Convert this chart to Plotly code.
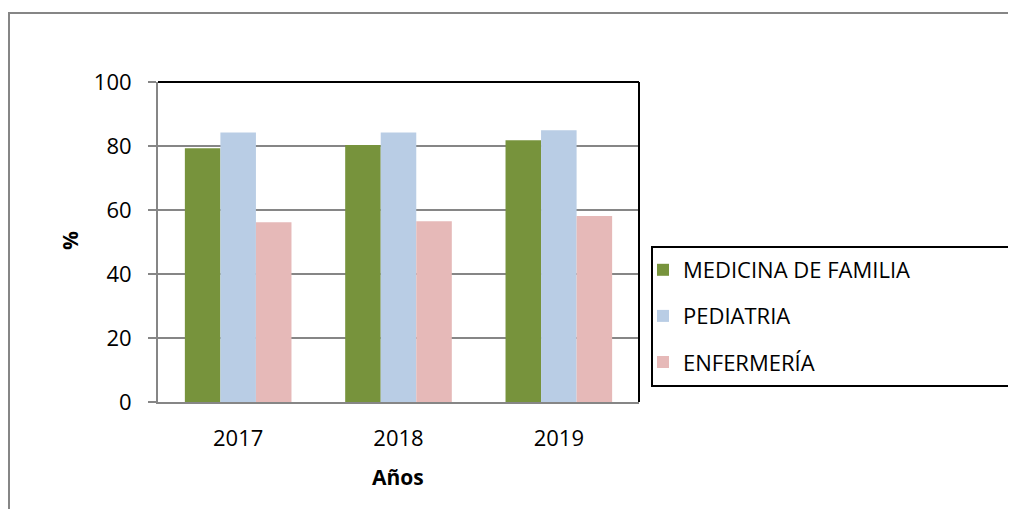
import plotly.graph_objects as go

years = ["2017", "2018", "2019"]
medicina = [79.3, 80.3, 81.8]
pediatria = [84.2, 84.2, 84.9]
enfermeria = [56.2, 56.5, 58.1]
series_names = ["MEDICINA DE FAMILIA", "PEDIATRIA", "ENFERMERÍA"]
colors = ["#77933C", "#B9CDE5", "#E6B9B8"]

OFF = 8  # page body margin
W, H = 1016 - 2 * OFF, 517 - 2 * OFF
L, R, T, B = 158, 639, 82, 402  # plot area in page pixels
pw, ph = R - L, B - T

def px(x):
    return (x - L) / pw

def py(y):
    return (B - y) / ph

FONT = "Open Sans"
fig = go.Figure()
for i, (name, vals) in enumerate(zip(series_names, [medicina, pediatria, enfermeria])):
    fig.add_trace(go.Bar(x=years, y=vals, name=name, marker_color=colors[i],
                         marker_line_width=0, legendgroup=str(i)))

fig.update_layout(
    width=W, height=H,
    margin=dict(l=L - OFF, r=W - (R - OFF), t=T - OFF, b=H - (B - OFF)),
    paper_bgcolor="white", plot_bgcolor="white",
    barmode="group", bargap=0.335, bargroupgap=0,
    font=dict(family=FONT, size=22, color="black"),
    showlegend=True,
    legend=dict(x=px(643), y=py(249), xanchor="left", yanchor="top",
                traceorder="grouped", tracegroupgap=14.5,
                font=dict(family=FONT, size=22, color="black"),
                bgcolor="rgba(0,0,0,0)", borderwidth=0, itemwidth=30),
    xaxis=dict(showline=True, linecolor="#868686", linewidth=2, ticks="",
               showgrid=False, tickfont=dict(size=22), ticklabelstandoff=16),
    yaxis=dict(range=[0, 100], tickvals=[0, 20, 40, 60, 80, 100],
               showline=True, linecolor="#868686", linewidth=2,
               ticks="outside", ticklen=8, tickcolor="#868686", tickwidth=2,
               showgrid=True, gridcolor="#868686", gridwidth=2,
               tickfont=dict(size=22), ticklabelstandoff=12, zeroline=False),
)

shapes = [
    dict(type="rect", xref="paper", yref="paper", x0=px(9), x1=px(1040), y0=py(540), y1=py(13),
         line=dict(color="#868686", width=2), fillcolor="rgba(0,0,0,0)", layer="below"),
    dict(type="line", xref="paper", yref="paper", x0=0, x1=1, y0=1, y1=1,
         line=dict(color="black", width=2)),
    dict(type="line", xref="paper", yref="paper", x0=1, x1=1, y0=0, y1=1,
         line=dict(color="black", width=2)),
    dict(type="rect", xref="paper", yref="paper", x0=px(652), x1=px(1040), y0=py(386), y1=py(247),
         line=dict(color="black", width=2), fillcolor="rgba(0,0,0,0)"),
]
fig.update_layout(shapes=shapes)

fig.add_annotation(text="<b>%</b>", xref="paper", yref="paper", x=px(70), y=py(241),
                   xanchor="center", yanchor="middle",
                   showarrow=False, textangle=-90, font=dict(family=FONT, size=21))
fig.add_annotation(text="<b>Años</b>", xref="paper", yref="paper", x=px(398), y=py(477),
                   xanchor="center", yanchor="middle",
                   showarrow=False, font=dict(family=FONT, size=21))

fig.write_html("out.html")
